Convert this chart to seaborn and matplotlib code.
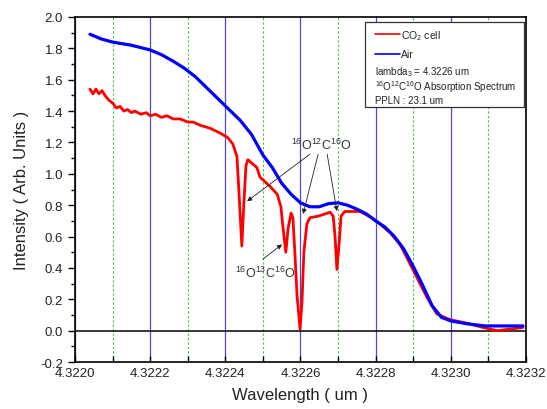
import pandas as pd
import matplotlib
matplotlib.use("Agg")
import matplotlib.pyplot as plt
import seaborn as sns
from matplotlib.ticker import MultipleLocator, FormatStrFormatter
from matplotlib.patches import Rectangle

# Spectra (wavelength in um, intensity in arb. units)
red_wl = [4.322040, 4.322048, 4.322056, 4.322064, 4.322072, 4.322080, 4.322090, 4.322101,
          4.322110, 4.322120, 4.322130, 4.322140, 4.322150, 4.322160, 4.322175, 4.322190,
          4.322200, 4.322215, 4.322230, 4.322245, 4.322261, 4.322280, 4.322300, 4.322315,
          4.322333, 4.322360, 4.322386, 4.322407, 4.322420, 4.322431, 4.322436, 4.322444,
          4.322450, 4.322455, 4.322460, 4.322484, 4.322492, 4.322519, 4.322538, 4.322548,
          4.322553, 4.322561, 4.322567, 4.322575, 4.322580, 4.322585, 4.322591, 4.322599,
          4.322604, 4.322609, 4.322617, 4.322625, 4.322647, 4.322679, 4.322687, 4.322692,
          4.322697, 4.322703, 4.322708, 4.322718, 4.322758, 4.322790, 4.322812, 4.322840,
          4.322865, 4.322899, 4.322937, 4.322963, 4.322998, 4.323038, 4.323086, 4.323123,
          4.323158, 4.323192]
red_int = [1.54, 1.51, 1.54, 1.51, 1.53, 1.50, 1.47, 1.45,
           1.42, 1.43, 1.40, 1.41, 1.39, 1.40, 1.38, 1.39,
           1.37, 1.38, 1.36, 1.37, 1.35, 1.35, 1.33, 1.33,
           1.31, 1.29, 1.26, 1.23, 1.19, 1.11, 0.90, 0.54,
           0.84, 1.05, 1.09, 1.04, 0.98, 0.92, 0.87, 0.79,
           0.67, 0.50, 0.65, 0.75, 0.72, 0.50, 0.22, 0.01,
           0.18, 0.50, 0.68, 0.72, 0.73, 0.755, 0.73, 0.60,
           0.39, 0.56, 0.73, 0.76, 0.76, 0.72, 0.68, 0.62,
           0.55, 0.39, 0.21, 0.106, 0.07, 0.05, 0.02, 0.0,
           0.01, 0.02]

blue_wl = [4.322040, 4.322070, 4.322100, 4.322150, 4.322200, 4.322230, 4.322260, 4.322290,
           4.322320, 4.322350, 4.322380, 4.322410, 4.322440, 4.322470, 4.322500, 4.322525,
           4.322550, 4.322575, 4.322600, 4.322625, 4.322650, 4.322675, 4.322700, 4.322725,
           4.322750, 4.322775, 4.322800, 4.322825, 4.322850, 4.322875, 4.322900, 4.322925,
           4.322950, 4.322975, 4.323000, 4.323040, 4.323090, 4.323140, 4.323192]
blue_int = [1.89, 1.86, 1.84, 1.82, 1.79, 1.76, 1.72, 1.675,
            1.62, 1.55, 1.48, 1.41, 1.34, 1.25, 1.12, 1.04,
            0.94, 0.87, 0.815, 0.79, 0.79, 0.81, 0.815, 0.80,
            0.775, 0.745, 0.70, 0.66, 0.60, 0.52, 0.41, 0.29,
            0.16, 0.085, 0.062, 0.045, 0.03, 0.03, 0.03]

series_labels = ["CO$_2$ cell", "Air"]
info_lines = ["lambda$_3$ = 4.3226 um",
              "$^{16}$O$^{12}$C$^{16}$O Absorption Spectrum",
              "PPLN : 23.1 um"]

sns.set_style("white")
plt.rcParams['font.family'] = ['Liberation Sans', 'DejaVu Sans']
plt.rcParams['mathtext.fontset'] = 'custom'
plt.rcParams['mathtext.rm'] = 'Liberation Sans'
plt.rcParams['mathtext.it'] = 'Liberation Sans'

red_df = pd.DataFrame({"wl": red_wl, "val": red_int})
blue_df = pd.DataFrame({"wl": blue_wl, "val": blue_int})

fig = plt.figure(figsize=(5.47, 4.10), dpi=100)
ax = fig.add_axes([0.137, 0.1146, 0.8246, 0.8415])

# vertical grid: blue majors, green dotted minors
ax.set_xlim(4.3220, 4.3232)
ax.set_ylim(-0.2, 2.0)
ax.xaxis.set_major_locator(MultipleLocator(0.0002))
ax.xaxis.set_minor_locator(MultipleLocator(0.0001))
ax.xaxis.set_major_formatter(FormatStrFormatter('%.4f'))
ax.yaxis.set_major_locator(MultipleLocator(0.2))
ax.yaxis.set_minor_locator(MultipleLocator(0.1))
ax.yaxis.set_major_formatter(FormatStrFormatter('%.1f'))
ax.grid(which='major', axis='x', color='#4a4ad0', lw=0.9)
ax.grid(which='minor', axis='x', color='#3cc83c', lw=0.8, linestyle=(0, (2, 2)))
ax.grid(which='both', axis='y', visible=False)
ax.axhline(0, color='black', lw=1.1, zorder=1.5)

sns.lineplot(data=red_df, x="wl", y="val", color='#ff0000', lw=2.0, ax=ax, label=series_labels[0])
sns.lineplot(data=blue_df, x="wl", y="val", color='#0000ff', lw=2.3, ax=ax, label=series_labels[1])

for s in ax.spines.values():
    s.set_color('black')
    s.set_linewidth(1.2)

ax.tick_params(axis='x', which='both', direction='in', bottom=True, top=False,
               labelsize=9.5, labelcolor='#222222', color='black', length=4, width=1)
ax.tick_params(axis='y', which='both', direction='out', left=True, right=False,
               labelsize=9.5, labelcolor='#222222', color='black')
ax.tick_params(axis='y', which='major', length=5, width=1)
ax.tick_params(axis='y', which='minor', length=3, width=1)

ax.set_xlabel("Wavelength ( um )", fontsize=12, color='#222222', labelpad=6)
ax.set_ylabel("Intensity ( Arb. Units )", fontsize=12, color='#222222', labelpad=8)

# legend box with extra info
ax.add_patch(Rectangle((0.643, 0.739), 0.352, 0.247, transform=ax.transAxes,
                       fill=True, fc='white', ec='#333333', lw=0.9, zorder=4))
leg = ax.legend(loc='upper left', bbox_to_anchor=(0.655, 0.98), frameon=False, fontsize=7.5,
                handlelength=2.4, handletextpad=0.1, labelspacing=0.7, borderaxespad=0)
leg.set_zorder(5)
for h in leg.get_lines():
    h.set_linewidth(1.2)
for txt, yy in zip(info_lines, [0.843, 0.801, 0.760]):
    ax.text(0.665, yy, txt, transform=ax.transAxes, fontsize=7.0, va='center',
            color='#222222', zorder=6)

# isotope annotations
arrow = dict(arrowstyle='-|>', color='#222222', lw=0.6, mutation_scale=7, shrinkA=0, shrinkB=0)
ax.text(4.322655, 1.19, "$^{16}$O$^{12}$C$^{16}$O", fontsize=9, ha='center', va='center', color='#333333')
ax.annotate('', xy=(4.322458, 0.825), xytext=(4.322625, 1.125), arrowprops=arrow)
ax.annotate('', xy=(4.322607, 0.744), xytext=(4.322647, 1.125), arrowprops=arrow)
ax.annotate('', xy=(4.322697, 0.762), xytext=(4.322671, 1.125), arrowprops=arrow)
ax.text(4.322506, 0.373, "$^{16}$O$^{13}$C$^{16}$O", fontsize=9, ha='center', va='center', color='#333333')
ax.annotate('', xy=(4.322551, 0.55), xytext=(4.322500, 0.456), arrowprops=arrow)

fig.savefig("out.png", dpi=100)
